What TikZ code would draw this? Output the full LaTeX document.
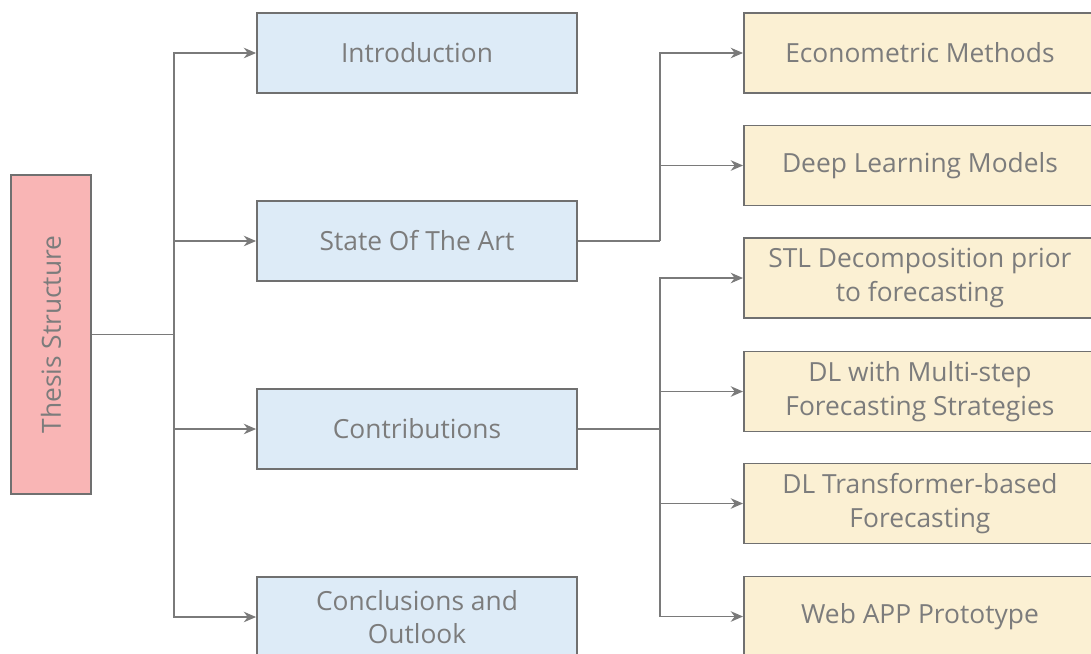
\documentclass[tikz,border=0pt]{standalone}
\usepackage{fontspec}
\setmainfont{Open Sans}
\usetikzlibrary{arrows.meta}

\definecolor{boxline}{HTML}{707070}
\definecolor{linkgray}{HTML}{7A7A7A}
\definecolor{textgray}{HTML}{7C7C7C}
\definecolor{rootfill}{HTML}{F9B5B5}
\definecolor{partfill}{HTML}{DDEBF7}
\definecolor{subfill}{HTML}{FBF0D3}

\tikzset{
    box/.style={draw=boxline, line width=1.1pt, text=textgray, align=center,
        font=\fontsize{15pt}{19pt}\selectfont, inner sep=0pt},
    part/.style={box, fill=partfill, minimum width=6.4cm, minimum height=1.6cm},
    sub/.style={box, fill=subfill, minimum width=7.04cm, minimum height=1.6cm},
    link/.style={draw=linkgray, line width=0.7pt},
    arrow/.style={link, -{Stealth[length=7pt, width=6pt]}},
}

\begin{document}
\begin{tikzpicture}[x=0.02cm, y=-0.02cm]
    \useasboundingbox (0,0) rectangle (1091,653) ;
    \clip (0,0) rectangle (1091,653) ;

    \node [box, fill=rootfill, minimum width=6.38cm, minimum height=1.6cm, rotate=90] (root) at (51,334.5) {Thesis Structure} ;

    \node [part] (intro) at (417,53) {Introduction} ;
    \node [part] (sota) at (417,241) {State Of The Art} ;
    \node [part] (contrib) at (417,429) {Contributions} ;
    \node [part] (concl) at (417,617) {Conclusions and\\Outlook} ;

    \node [sub, anchor=west] (econ) at (743,53) {Econometric Methods} ;
    \node [sub, anchor=west] (deep) at (743,165.5) {Deep Learning Models} ;
    \node [sub, anchor=west] (stl) at (743,278) {STL Decomposition prior\\to forecasting} ;
    \node [sub, anchor=west] (multi) at (743,391.5) {DL with Multi-step\\Forecasting Strategies} ;
    \node [sub, anchor=west] (trans) at (743,503.5) {DL Transformer-based\\Forecasting} ;
    \node [sub, anchor=west] (web) at (743,616.5) {Web APP Prototype} ;

    % left tree
    \coordinate (trunk) at (174,334.5) ;
    \draw [link] (root) -- (trunk) ;
    \foreach \p in {intro, sota, contrib, concl}
        \draw [arrow] (trunk) |- (\p.west) ;

    % right tree
    \coordinate (sotafork) at (660,241) ;
    \coordinate (contribfork) at (660,429) ;
    \draw [link] (sota) -- (sotafork) ;
    \draw [link] (contrib) -- (contribfork) ;
    \foreach \s in {econ, deep}
        \draw [arrow] (sotafork) |- (\s.west) ;
    \foreach \s in {stl, multi, trans, web}
        \draw [arrow] (contribfork) |- (\s.west) ;
\end{tikzpicture}
\end{document}
